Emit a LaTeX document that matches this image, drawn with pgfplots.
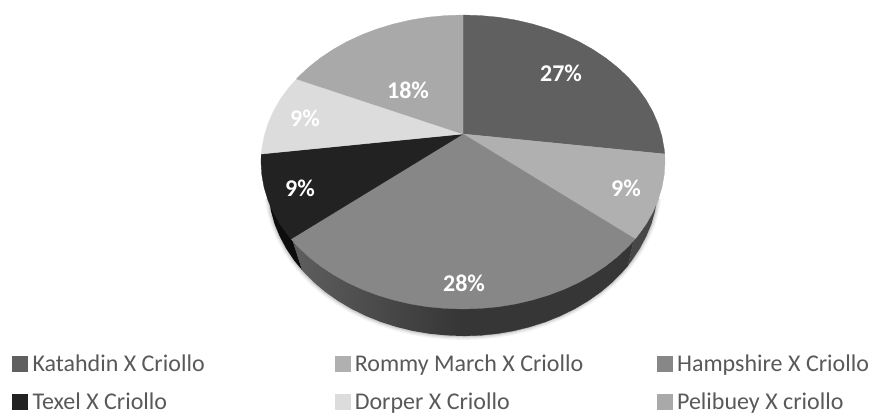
\documentclass[border=0pt]{standalone}
\usepackage{pgfplots}
\usepackage{pgfplotstable}
\usepackage{fontspec}
\setmainfont{Carlito}
\pgfplotsset{compat=1.18}

\definecolor{sKat}{HTML}{606060}
\definecolor{sRom}{HTML}{B0B0B0}
\definecolor{sHam}{HTML}{878787}
\definecolor{sTex}{HTML}{222222}
\definecolor{sDor}{HTML}{DCDCDC}
\definecolor{sPel}{HTML}{A9A9A9}

% top face of the pie, in picture pixels
\pgfplotstableread{
x y
463 134
463 15
480.6 15.6
498.1 17.2
515.3 20.0
532.1 23.9
548.4 28.8
564 34.7
578.9 41.6
592.8 49.4
605.8 58.1
617.7 67.5
628.5 77.7
637.9 88.5
646.1 99.9
652.8 111.7
658.1 124
661.9 136.5
664.2 149.2
664.7 154
}\sliceKat
\pgfplotstableread{
x y
463 134
664.7 154
665 162
664.2 174.8
661.9 187.5
658.1 200
652.8 212.3
646.1 224.1
637.9 235.5
635 239
}\sliceRom
\pgfplotstableread{
x y
463 134
635 239
628.5 246.3
617.7 256.5
605.8 265.9
592.8 274.6
578.9 282.4
564 289.3
548.4 295.2
532.1 300.1
515.3 304
498.1 306.8
480.6 308.4
463 309
445.4 308.4
427.9 306.8
410.7 304
393.9 300.1
377.6 295.2
362 289.3
347.1 282.4
333.2 274.6
320.2 265.9
308.3 256.5
297.5 246.3
291 239
}\sliceHam
\pgfplotstableread{
x y
463 134
291 239
288.1 235.5
279.9 224.1
273.2 212.3
267.9 200
264.1 187.5
261.8 174.8
261 162
261.3 154
}\sliceTex
\pgfplotstableread{
x y
463 134
261.3 154
261.8 149.2
264.1 136.5
267.9 124
273.2 111.7
279.9 99.9
288.1 88.5
296.5 79
}\sliceDor
\pgfplotstableread{
x y
463 134
296.5 79
297.5 77.7
308.3 67.5
320.2 58.1
333.2 49.4
347.1 41.6
362 34.7
377.6 28.8
393.9 23.9
410.7 20
427.9 17.2
445.4 15.6
463 15
}\slicePel

% side wall
\pgfplotstableread{
x y
292 239
302 270
303.3 271.6
313.6 282.1
325.1 291.8
337.7 300.7
351.1 308.7
365.5 315.8
380.6 321.9
396.3 326.9
412.5 330.9
429.1 333.7
446 335.4
463 336
463 300
}\wallHamL
\pgfplotstableread{
x y
463 300
463 336
480 335.4
496.9 333.7
513.5 330.9
529.7 326.9
545.4 321.9
560.5 315.8
574.9 308.7
588.3 300.7
600.9 291.8
612.4 282.1
622.7 271.6
628 265.5
634 239
}\wallHamR
\pgfplotstableread{
x y
634 239
628 265.5
631.9 260.5
639.7 248.8
646.2 236.6
651.4 224.1
655 211.2
657.3 198.2
658 185
}\wallRom
\pgfplotstableread{
x y
292 239
302 270
294.1 260.5
286.3 248.8
279.8 236.6
274.6 224.1
271 211.2
268.7 198.2
268 185
}\wallTex
% lower rim, for the soft shadow
\pgfplotstableread{
x y
268.7 198.2
271 211.2
274.6 224.1
279.8 236.6
286.3 248.8
294.1 260.5
303.3 271.6
313.6 282.1
325.1 291.8
337.7 300.7
351.1 308.7
365.5 315.8
380.6 321.9
396.3 326.9
412.5 330.9
429.1 333.7
446 335.4
463 336
480 335.4
496.9 333.7
513.5 330.9
529.7 326.9
545.4 321.9
560.5 315.8
574.9 308.7
588.3 300.7
600.9 291.8
612.4 282.1
622.7 271.6
631.9 260.5
639.7 248.8
646.2 236.6
651.4 224.1
655 211.2
657.3 198.2
}\rim

\pgfplotstableread{
x y pct
561 73 27
626 188 9
464 283 28
300 188 9
305 118 9
408 90 18
}\labels

\begin{document}
\begin{tikzpicture}
\useasboundingbox (0,0) rectangle (870pt,414pt);
\begin{axis}[
    at={(0,0)}, anchor=south west,
    scale only axis, width=870pt, height=414pt,
    xmin=0, xmax=870, ymin=0, ymax=414,
    y dir=reverse, hide axis, clip=false,
    legend columns=3,
    legend cell align=left,
    legend image code/.code={\path[#1] (0pt,-7.5pt) rectangle (15pt,7.5pt); \path (18pt,0pt);},
    legend style={
        at={(0.0,0.0)}, anchor=south west,
        draw=none, fill=none, inner xsep=12pt, inner ysep=1pt,
        font=\fontsize{24}{26}\selectfont,
        text=black!65,
        /tikz/every even column/.style={column sep=0pt},
        /tikz/row sep=15.5pt,
    },
    slice/.style={fill=#1, draw=#1, line width=0.3pt},
]
\addplot[forget plot, draw=black, opacity=0.05, line width=8pt] table {\rim};
\addplot[forget plot, draw=black, opacity=0.07, line width=5pt] table {\rim};
\addplot[forget plot, draw=black, opacity=0.09, line width=2.5pt] table {\rim};

\addplot[forget plot, draw=none, left color=black!63, right color=black!79] table {\wallHamL} -- cycle;
\addplot[forget plot, fill=black!79, draw=black!79, line width=0.3pt] table {\wallHamR} -- cycle;
\addplot[forget plot, fill=black!72, draw=none] table {\wallRom} -- cycle;
\addplot[forget plot, fill=black!95, draw=none] table {\wallTex} -- cycle;

\addplot[slice=sKat] table {\sliceKat} -- cycle;
\addlegendentry{\makebox[300pt][l]{Katahdin X Criollo}}
\addplot[slice=sRom] table {\sliceRom} -- cycle;
\addlegendentry{\makebox[300pt][l]{Rommy March X Criollo}}
\addplot[slice=sHam] table {\sliceHam} -- cycle;
\addlegendentry{Hampshire X Criollo}
\addplot[slice=sTex] table {\sliceTex} -- cycle;
\addlegendentry{\makebox[300pt][l]{Texel X Criollo}}
\addplot[slice=sDor] table {\sliceDor} -- cycle;
\addlegendentry{\makebox[300pt][l]{Dorper X Criollo}}
\addplot[slice=sPel] table {\slicePel} -- cycle;
\addlegendentry{Pelibuey X criollo}

\addplot[forget plot, only marks, mark=none,
    point meta=explicit symbolic,
    nodes near coords={\pgfplotspointmeta\%},
    every node near coord/.append style={anchor=center, inner sep=0pt, text=white,
        font=\fontsize{24}{26}\selectfont\bfseries},
] table [meta=pct] {\labels};
\end{axis}
\end{tikzpicture}
\end{document}
